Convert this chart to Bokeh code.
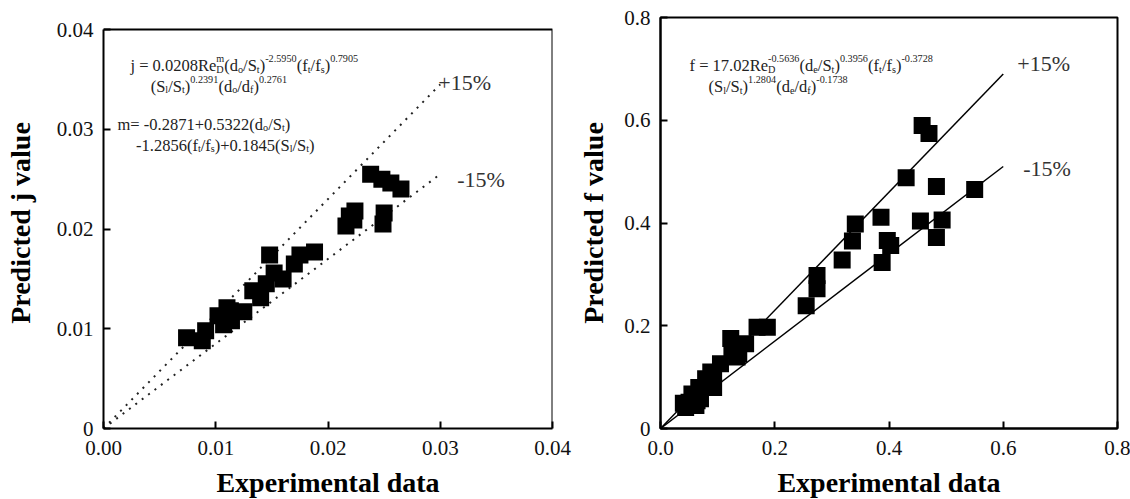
from bokeh.plotting import figure
from bokeh.layouts import row
from bokeh.models import Range1d, FixedTicker, ColumnDataSource
from bokeh.core.properties import value, field
from bokeh.embed import file_html
from bokeh.resources import INLINE

SERIF = "Liberation Serif"

# Colburn j factor: experimental vs. correlation
j_exp = [0.0074, 0.0088, 0.0091, 0.0102, 0.0107, 0.0110, 0.0114, 0.0113,
         0.0125, 0.0133, 0.0140, 0.0145, 0.0148, 0.0152, 0.0160, 0.0170,
         0.0175, 0.0188, 0.0216, 0.0219, 0.0224, 0.0223, 0.0250, 0.0249,
         0.0238, 0.0248, 0.0256, 0.0265]
j_pred = [0.0091, 0.0088, 0.0098, 0.0113, 0.0104, 0.0121, 0.0108, 0.0118,
          0.0117, 0.0138, 0.0131, 0.0145, 0.0174, 0.0156, 0.0150, 0.0165,
          0.0174, 0.0177, 0.0203, 0.0213, 0.0218, 0.0209, 0.0216, 0.0205,
          0.0255, 0.0250, 0.0246, 0.0240]

# Fanning friction factor: experimental vs. correlation
f_exp = [0.044, 0.050, 0.040, 0.055, 0.064, 0.067, 0.070, 0.062, 0.079,
         0.088, 0.093, 0.093, 0.105, 0.123, 0.125, 0.137, 0.134, 0.149,
         0.169, 0.187, 0.255, 0.274, 0.274, 0.318, 0.336, 0.341, 0.386,
         0.388, 0.397, 0.403, 0.430, 0.455, 0.458, 0.470, 0.483, 0.483,
         0.493, 0.550]
f_pred = [0.041, 0.051, 0.049, 0.067, 0.054, 0.080, 0.058, 0.045, 0.097,
          0.110, 0.080, 0.106, 0.126, 0.175, 0.156, 0.145, 0.139, 0.165,
          0.197, 0.197, 0.239, 0.272, 0.298, 0.328, 0.365, 0.398, 0.411,
          0.323, 0.366, 0.356, 0.488, 0.404, 0.590, 0.574, 0.471, 0.372,
          0.406, 0.465]

j_ticks = [0.0, 0.01, 0.02, 0.03, 0.04]
j_xlabels = ["0.00", "0.01", "0.02", "0.03", "0.04"]
j_ylabels = ["0", "0.01", "0.02", "0.03", "0.04"]
f_ticks = [0.0, 0.2, 0.4, 0.6, 0.8]
f_xlabels = ["0.0", "0.2", "0.4", "0.6", "0.8"]
f_ylabels = ["0", "0.2", "0.4", "0.6", "0.8"]

band = 0.15          # +/-15 % deviation bounds
j_band_end = 0.03
f_band_end = 0.6
band_labels = ["+15%", "-15%"]

# Correlations, written as runs of (text, style[, advance]) pieces
j_eq = [
    [("j = 0.0208Re", "n"), ("D", "sub", False), ("m", "sup"), ("(d", "n"), ("o", "sub"),
     ("/S", "n"), ("t", "sub"), (")", "n"), ("-2.5950", "sup"), ("(f", "n"), ("t", "sub"),
     ("/f", "n"), ("s", "sub"), (")", "n"), ("0.7905", "sup")],
    [("(S", "n"), ("l", "sub"), ("/S", "n"), ("t", "sub"), (")", "n"), ("0.2391", "sup"),
     ("(d", "n"), ("o", "sub"), ("/d", "n"), ("f", "sub"), (")", "n"), ("0.2761", "sup")],
    [("m= -0.2871+0.5322(d", "n"), ("o", "sub"), ("/S", "n"), ("t", "sub"), (")", "n")],
    [("-1.2856(f", "n"), ("t", "sub"), ("/f", "n"), ("s", "sub"), (")+0.1845(S", "n"),
     ("l", "sub"), ("/S", "n"), ("t", "sub"), (")", "n")],
]
j_eq_anchor = [(0.0024, 0.0364), (0.0042, 0.0343), (0.00125, 0.0305), (0.0029, 0.0284)]

f_eq = [
    [("f = 17.02Re", "n"), ("D", "sub", False), ("-0.5636", "sup"), ("(d", "n"), ("e", "sub"),
     ("/S", "n"), ("t", "sub"), (")", "n"), ("0.3956", "sup"), ("(f", "n"), ("t", "sub"),
     ("/f", "n"), ("s", "sub"), (")", "n"), ("-0.3728", "sup")],
    [("(S", "n"), ("l", "sub"), ("/S", "n"), ("t", "sub"), (")", "n"), ("1.2804", "sup"),
     ("(d", "n"), ("e", "sub"), ("/d", "n"), ("f", "sub"), (")", "n"), ("-0.1738", "sup")],
]
f_eq_anchor = [(0.0508, 0.7066), (0.084, 0.6657)]

# Advance widths of the serif face, in 1/1000 em
ADV = {" ": 250, "(": 333, ")": 333, "+": 564, "-": 333, ".": 250, "/": 278,
       "=": 564, "%": 833, "D": 722, "R": 667, "S": 556, "d": 500, "e": 444,
       "f": 333, "j": 278, "l": 278, "m": 778, "o": 500, "s": 389, "t": 278}


def text_width(s, size):
    return sum(ADV.get(c, 500) for c in s) / 1000.0 * size


def layout_equation(lines, anchors, base=16.5, ratio=0.62):
    cols = dict(x=[], y=[], text=[], dx=[], dy=[], size=[])
    for pieces, (ax, ay) in zip(lines, anchors):
        pos, pending = 0.0, 0.0
        for piece in pieces:
            txt, style = piece[0], piece[1]
            advance = piece[2] if len(piece) > 2 else True
            size = base if style == "n" else base * ratio
            shift = {"n": 0.0, "sup": -0.42 * base, "sub": 0.22 * base}[style]
            cols["x"].append(ax)
            cols["y"].append(ay)
            cols["text"].append(txt)
            cols["dx"].append(pos)
            cols["dy"].append(shift)
            cols["size"].append(f"{size:.1f}px")
            w = text_width(txt, size)
            if advance:
                pos += max(w, pending)
                pending = 0.0
            else:
                pending = w
    return ColumnDataSource(cols)


def base_figure(xr, yr, ticks, xlabels, ylabels, ylabel, fw, fh, left, top, right, ystandoff):
    p = figure(frame_width=fw, frame_height=fh, output_backend="svg",
               toolbar_location=None, x_range=Range1d(*xr), y_range=Range1d(*yr),
               min_border_left=left, min_border_top=top, min_border_right=right,
               min_border_bottom=40)
    p.background_fill_color = "white"
    p.border_fill_color = "white"
    p.outline_line_color = "black"
    p.outline_line_width = 2
    p.xgrid.visible = False
    p.ygrid.visible = False
    for ax, labels in ((p.xaxis, xlabels), (p.yaxis, ylabels)):
        ax.ticker = FixedTicker(ticks=ticks)
        ax.major_label_overrides = {t: l for t, l in zip(ticks, labels)}
        ax.minor_tick_line_color = None
        ax.major_tick_in = 7
        ax.major_tick_out = 0
        ax.major_tick_line_width = 2
        ax.axis_line_width = 2
        ax.axis_line_color = "black"
        ax.major_tick_line_color = "black"
        ax.major_label_text_font = SERIF
        ax.major_label_text_font_size = "21px"
        ax.major_label_text_color = "#111111"
        ax.axis_label_text_font = SERIF
        ax.axis_label_text_font_size = "28px"
        ax.axis_label_text_font_style = "bold"
        ax.axis_label_text_color = "black"
    p.xaxis.axis_label = "Experimental data"
    p.yaxis.axis_label = ylabel
    p.xaxis.major_label_standoff = 12
    p.xaxis.axis_label_standoff = 9
    p.yaxis.major_label_standoff = 10
    p.yaxis.axis_label_standoff = ystandoff
    return p


# ---- left panel: j factor ----
# The left box is shorter than the right one; its frame shares the right frame's
# height and the box is closed at j = 0.04 by hand.
j_top = 0.04
j_span = j_top * 411.0 / 399.0
p1 = base_figure((0, j_top), (0, j_span), j_ticks, j_xlabels, j_ylabels,
                 "Predicted j value", 449, 411, 103, 17, 23, 18)
p1.outline_line_color = None
p1.yaxis.bounds = (0, j_top)
p1.line([0, j_top, j_top], [j_top, j_top, 0], line_color="black", line_width=2)
p1.line([0, j_band_end], [0, j_band_end * (1 + band)], line_color="#222222",
        line_width=2, line_dash="2 6")
p1.line([0, j_band_end], [0, j_band_end * (1 - band)], line_color="#222222",
        line_width=2, line_dash="2 6")
p1.scatter(j_exp, j_pred, marker="square", size=17, fill_color="black", line_color=None)
p1.text(x=[j_band_end, j_band_end],
        y=[j_band_end * (1 + band), j_band_end * (1 - band)],
        text=band_labels, x_offset=[-2, 17], y_offset=[-2, 5],
        text_font=value(SERIF), text_font_size="22px", text_color="#333333",
        text_baseline="middle", text_align="left")
p1.text(x="x", y="y", text="text", x_offset="dx", y_offset="dy",
        text_font_size=field("size"), text_font=value(SERIF), text_color="#222222",
        text_baseline="alphabetic", text_align="left",
        source=layout_equation(j_eq, j_eq_anchor))

# ---- right panel: f factor ----
p2 = base_figure((0, 0.8), (0, 0.8), f_ticks, f_xlabels, f_ylabels,
                 "Predicted f value", 457, 411, 85, 17, 13, 12)
p2.line([0, f_band_end], [0, f_band_end * (1 + band)], line_color="black", line_width=1.5)
p2.line([0, f_band_end], [0, f_band_end * (1 - band)], line_color="black", line_width=1.5)
p2.scatter(f_exp, f_pred, marker="square", size=17, fill_color="black", line_color=None)
p2.text(x=[f_band_end, f_band_end],
        y=[f_band_end * (1 + band), f_band_end * (1 - band)],
        text=band_labels, x_offset=[14, 20], y_offset=[-11, 2],
        text_font=value(SERIF), text_font_size="22px", text_color="#333333",
        text_baseline="middle", text_align="left")
p2.text(x="x", y="y", text="text", x_offset="dx", y_offset="dy",
        text_font_size=field("size"), text_font=value(SERIF), text_color="#222222",
        text_baseline="alphabetic", text_align="left",
        source=layout_equation(f_eq, f_eq_anchor))

layout = row(p1, p2)
open("out.html", "w").write(file_html(layout, INLINE))
